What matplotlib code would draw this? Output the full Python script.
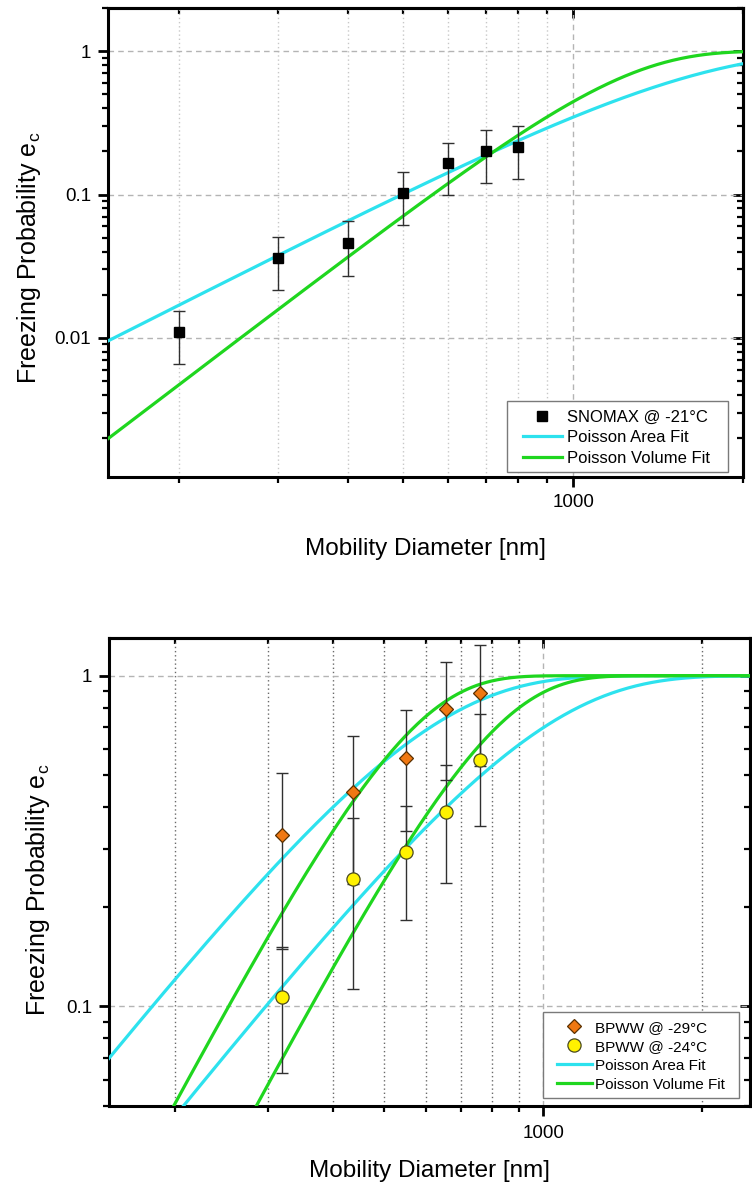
import numpy as np
import matplotlib
matplotlib.use("Agg")
import matplotlib.pyplot as plt
from matplotlib.patches import Rectangle
from matplotlib.ticker import LogLocator, NullFormatter, FuncFormatter

plt.rcParams["font.family"] = ["Liberation Sans", "DejaVu Sans"]
plt.rcParams["mathtext.fontset"] = "custom"
plt.rcParams["mathtext.rm"] = "Liberation Sans"
plt.rcParams["mathtext.it"] = "Liberation Sans:italic"

# ---- SNOMAX @ -21 °C ----
snomax_d = [200, 300, 400, 500, 600, 700, 800]
snomax_ec = [0.011, 0.036, 0.046, 0.102, 0.165, 0.200, 0.215]
snomax_err = [0.0044, 0.0145, 0.019, 0.041, 0.065, 0.080, 0.087]
# Poisson fit coefficients: e = 1 - exp(-k_area d^2), e = 1 - exp(-k_vol d^3)
snomax_k_area = 4.25e-7
snomax_k_vol = 5.87e-10

# ---- BPWW @ -29 °C and -24 °C ----
bpww_d = [320, 435, 550, 655, 760]
bpww29_ec = [0.329, 0.445, 0.564, 0.793, 0.887]
bpww29_err = [0.180, 0.210, 0.225, 0.310, 0.355]
bpww24_ec = [0.107, 0.242, 0.293, 0.387, 0.557]
bpww24_err = [0.044, 0.129, 0.110, 0.151, 0.207]
bpww29_k_area = 3.21e-6
bpww29_k_vol = 6.51e-9
bpww24_k_area = 1.19e-6
bpww24_k_vol = 2.204e-9

CYAN = "#2de2ee"
GREEN = "#1fd61f"
TICK_FS = 13.5
XLABEL_FS = 17.5
YLABEL_FS = 18
YLABEL_TEXT = r"Freezing Probability e$_\mathregular{c}$"
XLABEL_TEXT = "Mobility Diameter [nm]"


def area_fit(d, k):
    return 1.0 - np.exp(-k * d ** 2)


def vol_fit(d, k):
    return 1.0 - np.exp(-k * d ** 3)


def plain(v, pos):
    return "%g" % v


def style_axes(ax, xlim, ylim, vgrid_color, tick_pad):
    ax.set_xscale("log")
    ax.set_yscale("log")
    ax.set_xlim(*xlim)
    ax.set_ylim(*ylim)
    for sp in ax.spines.values():
        sp.set_linewidth(2.2)
    for axis in (ax.xaxis, ax.yaxis):
        axis.set_major_locator(LogLocator(base=10))
        axis.set_minor_locator(LogLocator(base=10, subs=np.arange(2, 10)))
        axis.set_major_formatter(FuncFormatter(plain))
        axis.set_minor_formatter(NullFormatter())
    ax.tick_params(which="major", direction="out", length=7, width=2.0,
                   labelsize=TICK_FS)
    ax.tick_params(which="minor", direction="out", length=4, width=1.6)
    ax.tick_params(axis="x", which="major", pad=tick_pad)
    ax.tick_params(axis="y", which="major", pad=5)
    # mirrored ticks on top and right, pointing inward
    top = ax.secondary_xaxis("top")
    right = ax.secondary_yaxis("right")
    for sec, axis in ((top, top.xaxis), (right, right.yaxis)):
        axis.set_major_locator(LogLocator(base=10))
        axis.set_minor_locator(LogLocator(base=10, subs=np.arange(2, 10)))
        axis.set_major_formatter(NullFormatter())
        axis.set_minor_formatter(NullFormatter())
        sec.tick_params(which="major", direction="in", length=7, width=2.0)
        sec.tick_params(which="minor", direction="in", length=4, width=1.6)
        for sp in sec.spines.values():
            sp.set_linewidth(2.2)
    # grid
    ax.grid(which="major", axis="both", linestyle=(0, (4, 3)), color="#b4b4b4", lw=1.0)
    ax.grid(which="minor", axis="x", linestyle=(0, (1, 2)), color=vgrid_color, lw=1.0)
    ax.set_axisbelow(True)


def framed_legend(ax, handles, labels, fontsize, handle_x, center_y, box,
                  handlelength, handletextpad, labelspacing):
    leg = ax.legend(handles, labels, loc="center left",
                    bbox_to_anchor=(handle_x, center_y), borderaxespad=0,
                    borderpad=0, fontsize=fontsize, frameon=False,
                    handlelength=handlelength, handletextpad=handletextpad,
                    labelspacing=labelspacing)
    leg.set_zorder(7)
    x0, y0, x1, y1 = box
    ax.add_patch(Rectangle((x0, y0), x1 - x0, y1 - y0, transform=ax.transAxes,
                           facecolor="white", edgecolor="#7a7a7a", lw=1.0,
                           zorder=6))
    return leg


fig = plt.figure(figsize=(7.52, 11.87), dpi=100)

# ---------------- top panel ----------------
ax1 = fig.add_axes([108 / 752, 1 - 477 / 1187, 635 / 752, 469 / 1187])
style_axes(ax1, (150, 2000), (0.00107, 2.0), "#c8c8c8", tick_pad=5.5)

d = np.geomspace(150, 2000, 400)
l_area, = ax1.plot(d, area_fit(d, snomax_k_area), color=CYAN, lw=2.3, zorder=3)
l_vol, = ax1.plot(d, vol_fit(d, snomax_k_vol), color=GREEN, lw=2.3, zorder=3)
ax1.errorbar(snomax_d, snomax_ec, yerr=snomax_err, fmt="none", ecolor="#303030",
             elinewidth=1.0, capsize=4, capthick=1.0, zorder=4)
m_sno, = ax1.plot(snomax_d, snomax_ec, ls="none", marker="s", ms=7.5,
                  color="black", zorder=5)

framed_legend(ax1, [m_sno, l_area, l_vol],
              ["SNOMAX @ -21°C", "Poisson Area Fit", "Poisson Volume Fit"],
              fontsize=12, handle_x=0.6535, center_y=0.0838,
              box=(0.628, 0.0107, 0.977, 0.162),
              handlelength=2.32, handletextpad=0.3, labelspacing=0.34)

ax1.set_xlabel(XLABEL_TEXT, fontsize=XLABEL_FS, labelpad=19)
ax1.set_ylabel(YLABEL_TEXT, fontsize=YLABEL_FS)
ax1.yaxis.set_label_coords(-0.1024, 0.467)

# ---------------- bottom panel ----------------
ax2 = fig.add_axes([109 / 752, 1 - 1106 / 1187, 641 / 752, 468 / 1187])
style_axes(ax2, (150, 2470), (0.05, 1.3), "#6a6a6a", tick_pad=7)

d = np.geomspace(150, 2470, 400)
a29, = ax2.plot(d, area_fit(d, bpww29_k_area), color=CYAN, lw=2.3, zorder=3)
v29, = ax2.plot(d, vol_fit(d, bpww29_k_vol), color=GREEN, lw=2.3, zorder=3)
ax2.plot(d, area_fit(d, bpww24_k_area), color=CYAN, lw=2.3, zorder=3)
ax2.plot(d, vol_fit(d, bpww24_k_vol), color=GREEN, lw=2.3, zorder=3)

ax2.errorbar(bpww_d, bpww29_ec, yerr=bpww29_err, fmt="none", ecolor="#303030",
             elinewidth=1.0, capsize=4, capthick=1.0, zorder=4)
ax2.errorbar(bpww_d, bpww24_ec, yerr=bpww24_err, fmt="none", ecolor="#303030",
             elinewidth=1.0, capsize=4, capthick=1.0, zorder=4)
m29, = ax2.plot(bpww_d, bpww29_ec, ls="none", marker="D", ms=7, mfc="#f07812",
                mec="#5a3000", mew=0.9, zorder=5)
m24, = ax2.plot(bpww_d, bpww24_ec, ls="none", marker="o", ms=9.5, mfc="#fff200",
                mec="#4a4a20", mew=0.9, zorder=5)

framed_legend(ax2, [m29, m24, a29, v29],
              ["BPWW @ -29°C", "BPWW @ -24°C", "Poisson Area Fit",
               "Poisson Volume Fit"],
              fontsize=11, handle_x=0.6984, center_y=0.1064,
              box=(0.6766, 0.0171, 0.9833, 0.2015),
              handlelength=2.29, handletextpad=0.24, labelspacing=0.33)

ax2.set_xlabel(XLABEL_TEXT, fontsize=XLABEL_FS, labelpad=12.5)
ax2.set_ylabel(YLABEL_TEXT, fontsize=YLABEL_FS)
ax2.yaxis.set_label_coords(-0.0889, 0.4615)

fig.savefig("out.png", dpi=100)
